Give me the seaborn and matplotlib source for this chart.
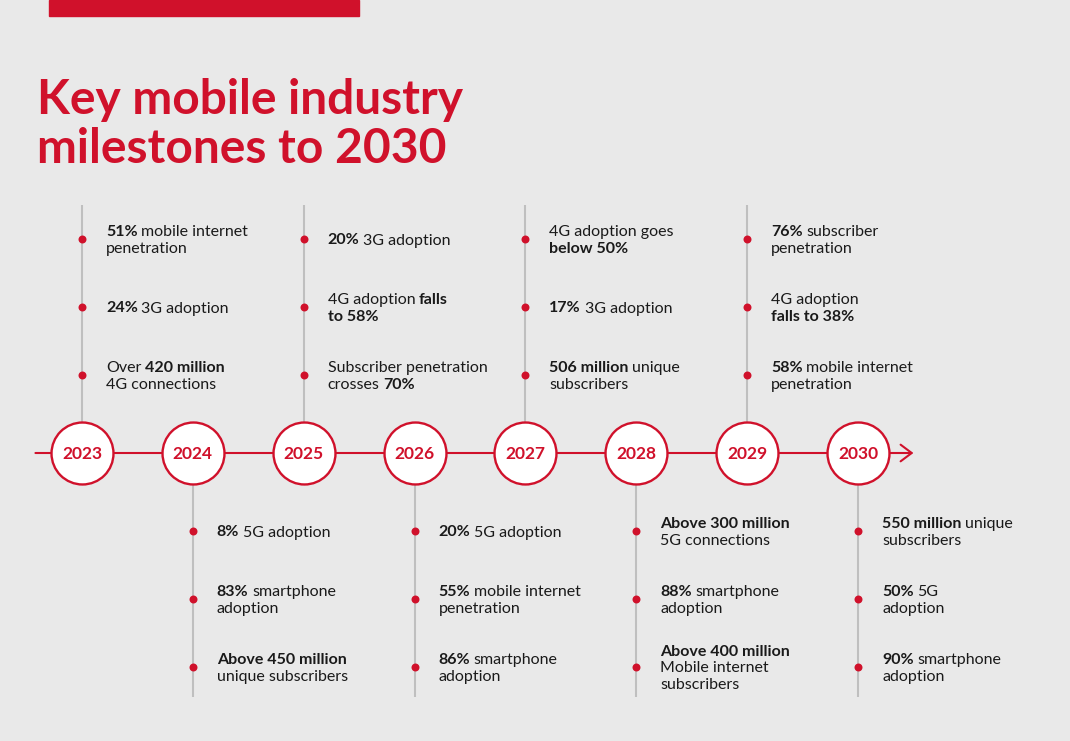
import matplotlib.pyplot as plt
import matplotlib.patches as mpatches
from matplotlib import font_manager as fm
import seaborn as sns
import pandas as pd

# timeline years and the milestones under each one (**...** = bold part)
years = [2023, 2024, 2025, 2026, 2027, 2028, 2029, 2030]
m2023 = ["**51%** mobile internet\npenetration", "**24%** 3G adoption", "Over **420 million**\n4G connections"]
m2024 = ["**8%** 5G adoption", "**83%** smartphone\nadoption", "**Above 450 million**\nunique subscribers"]
m2025 = ["**20%** 3G adoption", "4G adoption **falls**\n**to 58%**", "Subscriber penetration\ncrosses **70%**"]
m2026 = ["**20%** 5G adoption", "**55%** mobile internet\npenetration", "**86%** smartphone\nadoption"]
m2027 = ["4G adoption goes\n**below 50%**", "**17%** 3G adoption", "**506 million** unique\nsubscribers"]
m2028 = ["**Above 300 million**\n5G connections", "**88%** smartphone\nadoption", "**Above 400 million**\nMobile internet\nsubscribers"]
m2029 = ["**76%** subscriber\npenetration", "4G adoption\n**falls to 38%**", "**58%** mobile internet\npenetration"]
m2030 = ["**550 million** unique\nsubscribers", "**50%** 5G\nadoption", "**90%** smartphone\nadoption"]
milestones = [m2023, m2024, m2025, m2026, m2027, m2028, m2029, m2030]
title_lines = ["Key mobile industry", "milestones to 2030"]

RED = '#d0112b'
BG = '#e9e9e9'
GREY = '#bfbfbf'
INK = '#1a1a1a'
FS = 11.5
SPACE = 3.5  # px gap for a space between bold/regular parts


def bold_file(fam):
    for f in fm.fontManager.ttflist:
        if f.name == fam and 'cond' not in f.fname.lower() and f.style == 'normal':
            w = f.weight if isinstance(f.weight, int) else fm.weight_dict.get(f.weight, 400)
            if w == 700:
                return f.fname
    return None


FONT = next(f for f in ['Lato', 'Roboto', 'Noto Sans', 'Liberation Sans', 'DejaVu Sans']
            if bold_file(f))
BOLD = fm.FontProperties(fname=bold_file(FONT))

sns.set_theme(style='white')
plt.rcParams['font.family'] = [FONT, 'DejaVu Sans']

fig = plt.figure(figsize=(10.7, 7.41), dpi=100, facecolor=BG)
ax = fig.add_axes([0, 0, 1, 1])
ax.set_facecolor(BG)

step = 110.86  # px per year
TL = 453       # timeline height (px from top)
ax.set_xlim(years[0] - 82 / step, years[0] + 988 / step)
ax.set_ylim(741, 0)
ax.axis('off')
rend = fig.canvas.get_renderer()

# grey stems, alternating up / down
for i, yr in enumerate(years):
    if i % 2 == 0:
        ax.vlines(yr, 205, TL, color=GREY, lw=1.5, zorder=1)
    else:
        ax.vlines(yr, TL, 697, color=GREY, lw=1.5, zorder=1)

# red arrow line
ax.annotate('', xy=(years[-1] + 0.5, TL), xytext=(years[0] - 0.42, TL),
            arrowprops=dict(arrowstyle='->,head_length=0.4,head_width=0.3', color=RED,
                            lw=1.5, mutation_scale=20, shrinkA=0, shrinkB=0), zorder=2)

# year circles
circ = pd.DataFrame({'year': years, 'y': [TL] * len(years)})
sns.scatterplot(data=circ, x='year', y='y', s=1990, color='white', edgecolor=RED,
                linewidth=1.7, zorder=3, ax=ax, legend=False)
for yr in years:
    ax.text(yr, TL + 6, str(yr), ha='center', va='baseline', fontproperties=BOLD,
            fontsize=12.5, color=RED, zorder=4)


def draw_line(x, y, line):
    dx = 24
    for k, part in enumerate(line.split('**')):
        if part == '':
            continue
        lead = len(part) - len(part.lstrip(' '))
        trail = len(part) - len(part.rstrip(' '))
        dx += lead * SPACE
        kw = dict(fontproperties=BOLD) if k % 2 else {}
        t = ax.annotate(part.strip(' '), xy=(x, y), xytext=(dx, 0), textcoords='offset pixels',
                        va='baseline', ha='left', color=INK, annotation_clip=False, **kw)
        t.set_fontsize(FS)
        dx += t.get_window_extent(rend).width + trail * SPACE


# dots and milestone texts
rows = []
for i, (yr, items) in enumerate(zip(years, milestones)):
    for k, txt in enumerate(items):
        if i % 2 == 0:
            dy = TL - 78 - 68 * (2 - k)
        else:
            dy = TL + 78 + 68 * k
        rows.append({'year': yr, 'y': dy})
        lines = txt.split('\n')
        n = len(lines)
        for j, ln in enumerate(lines):
            draw_line(yr, dy + 5.5 + (j - (n - 1) / 2) * 16.3, ln)
dots = pd.DataFrame(rows)
sns.scatterplot(data=dots, x='year', y='y', s=33, color=RED, linewidth=0,
                zorder=4, ax=ax, legend=False)

# title and top bar
for j, t in enumerate(title_lines):
    fig.text(37 / 1070, 1 - (114 + 49 * j) / 741, t, fontproperties=BOLD, fontsize=34.5,
             color=RED, va='baseline', ha='left')
fig.patches.append(mpatches.Rectangle((49 / 1070, 1 - 16 / 741), 310 / 1070, 16 / 741,
                                      transform=fig.transFigure, color=RED, figure=fig))

ax.set_xlim(years[0] - 82 / step, years[0] + 988 / step)
ax.set_ylim(741, 0)

fig.savefig('out.png', dpi=100, facecolor=BG)
